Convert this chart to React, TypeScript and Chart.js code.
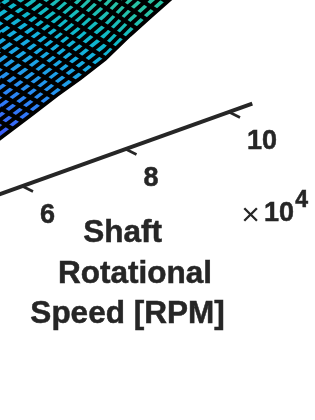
import React, { useEffect, useRef } from "react";
import { Chart, registerables } from "chart.js";

Chart.register(...registerables);

// Shaft speed axis (x 10^4 RPM)
const speedTicks = [6, 8, 10];
const speedTickLabels = ["6", "8", "10"];
const speedAxisEnds = [5.57, 10.45];
const titleLines = ["Shaft", "Rotational", "Speed [RPM]"];

// Surface mesh as seen in the projected view
const ridgeStopsX = [-5, 33, 57, 80, 105, 130, 150, 175];
const ridgeRows = [
  [142, 113.5, 95, 78.5, 59, 35, 17, -5],
  [132.8, 104.5, 86, 69.2, 50, 25, 7, -15],
  [123.6, 95.5, 77.1, 59.9, 40, 15, -3],
  [114.4, 86.5, 68.2, 50.6, 30, 5, -13],
  [105.2, 77.5, 59.2, 41.3, 20, -5],
  [96, 68.5, 50.3, 32, 10, -15],
  [86.8, 59.5, 41.3, 22.7, 0, -25],
  [77.6, 50.5, 32.4, 13.4, -10],
  [68.4, 41.5, 23.4, 4.1, -20],
  [59.2, 32.5, 14.5, -5.2],
  [50, 23.5, 5.5, -14.5],
  [40.8, 14.5, -3.5, -23.8],
  [31.6, 5.5, -12.4],
  [22.4, -3.5, -21.4],
  [13.2, -12.5],
  [4, -21.5],
  [-5.2, -30.5],
];
const crossRimX = [12.5, 22.5, 33, 43.5, 53.5, 64.5, 75.5, 85.5, 95.5, 106, 116, 126, 137, 147, 157, 167];
const crossRimY = [128.9, 121.4, 113.5, 105.4, 97.7, 89.6, 81.7, 74.4, 67, 58.5, 49, 39, 28.7, 19.7, 10.8, 2];
const crossLeftY = [121.4, 108, 93.7, 79.3, 65.6, 49.6, 33.4, 18.8, 4, -7.8, -25, -43, -61.7, -77, -92.8, -108];

const surfaceStops = [0.06, 0.25, 0.45, 0.62, 0.77, 1];
const surfaceColors = ["#3b5ff5", "#2c80f8", "#1f9de8", "#14aee0", "#0db8c8", "#28c2a4"];

// Projection of the speed axis onto the picture plane
const axisX = (rpm: number) => 22 + (rpm - 6) * 51.75;
const axisY = (rpm: number) => 186 - (rpm - 6) * 18.5;

export default function App() {
  const ref = useRef<HTMLCanvasElement | null>(null);

  useEffect(() => {
    const canvas = ref.current;
    if (!canvas) return;
    const ctx = canvas.getContext("2d")!;
    const gradient = ctx.createLinearGradient(25, 150, 85, -10);
    surfaceColors.forEach((c, i) => gradient.addColorStop(surfaceStops[i], c));

    const outline = [
      { x: -5, y: -5 },
      ...ridgeStopsX.map((x, i) => ({ x, y: ridgeRows[0][i] })),
      { x: -5, y: -5 },
    ];

    const line = (data: { x: number; y: number }[], width: number, color = "#000000", order = 5) => ({
      data,
      borderColor: color,
      borderWidth: width,
      pointRadius: 0,
      tension: 0,
      fill: false as const,
      order,
      borderCapStyle: "butt" as const,
    });

    const datasets: any[] = [
      {
        ...line(outline, 0, "rgba(0,0,0,0)", 10),
        backgroundColor: gradient,
        fill: "shape",
      },
      ...ridgeRows.map((row) => line(row.map((y, i) => ({ x: ridgeStopsX[i], y })), 3.8)),
      ...crossRimX.map((x, i) =>
        line([{ x, y: crossRimY[i] }, { x: 0, y: crossLeftY[i] }], 4.2)
      ),
      line([{ x: -5, y: 196 }, { x: axisX(speedAxisEnds[1]), y: axisY(speedAxisEnds[1]) }], 4, "#262626", 1),
      ...speedTicks.map((r) =>
        line(
          [
            { x: axisX(r), y: axisY(r) },
            { x: axisX(r) + 11, y: axisY(r) + 5.5 },
          ],
          2.6,
          "#262626",
          1
        )
      ),
    ];

    const textPlugin = {
      id: "axisText",
      afterDatasetsDraw(chart: any) {
        const { ctx: c, scales } = chart;
        const px = (v: number) => scales.x.getPixelForValue(v);
        const py = (v: number) => scales.y.getPixelForValue(v);
        const put = (text: string, x: number, y: number) => {
          c.fillText(text, px(x), py(y));
          c.strokeText(text, px(x), py(y));
        };
        c.save();
        c.fillStyle = "#262626";
        c.strokeStyle = "#262626";
        c.lineWidth = 0.5;
        c.textBaseline = "alphabetic";
        c.textAlign = "left";
        c.font = "bold 27px 'Liberation Sans'";
        speedTicks.forEach((r, i) => {
          put(speedTickLabels[i], axisX(r) + 18, axisY(r) + 37.3);
        });
        c.font = "bold 31.5px 'Liberation Sans'";
        c.textAlign = "center";
        put(titleLines[0], 122.5, 241.7);
        put(titleLines[1], 135, 282.7);
        put(titleLines[2], 127.5, 323);
        c.font = "32px 'Liberation Sans'";
        c.fillText("\u00d7", px(250.7), py(224.5));
        c.font = "bold 27px 'Liberation Sans'";
        put("10", 279, 221);
        c.font = "bold 23px 'Liberation Sans'";
        put("4", 301.7, 206.7);
        c.restore();
      },
    };

    const chart = new Chart(canvas, {
      type: "scatter",
      data: { datasets },
      options: {
        responsive: false,
        animation: false,
        showLine: true,
        layout: { padding: 0 },
        plugins: { legend: { display: false }, tooltip: { enabled: false } },
        scales: {
          x: { type: "linear", min: 0, max: 315, display: false },
          y: { type: "linear", min: 0, max: 420, reverse: true, display: false },
        },
      } as any,
      plugins: [textPlugin],
    });
    return () => chart.destroy();
  }, []);

  return (
    <canvas
      ref={ref}
      width={315}
      height={420}
      style={{ position: "absolute", left: 0, top: 0, display: "block", background: "#ffffff" }}
    />
  );
}
